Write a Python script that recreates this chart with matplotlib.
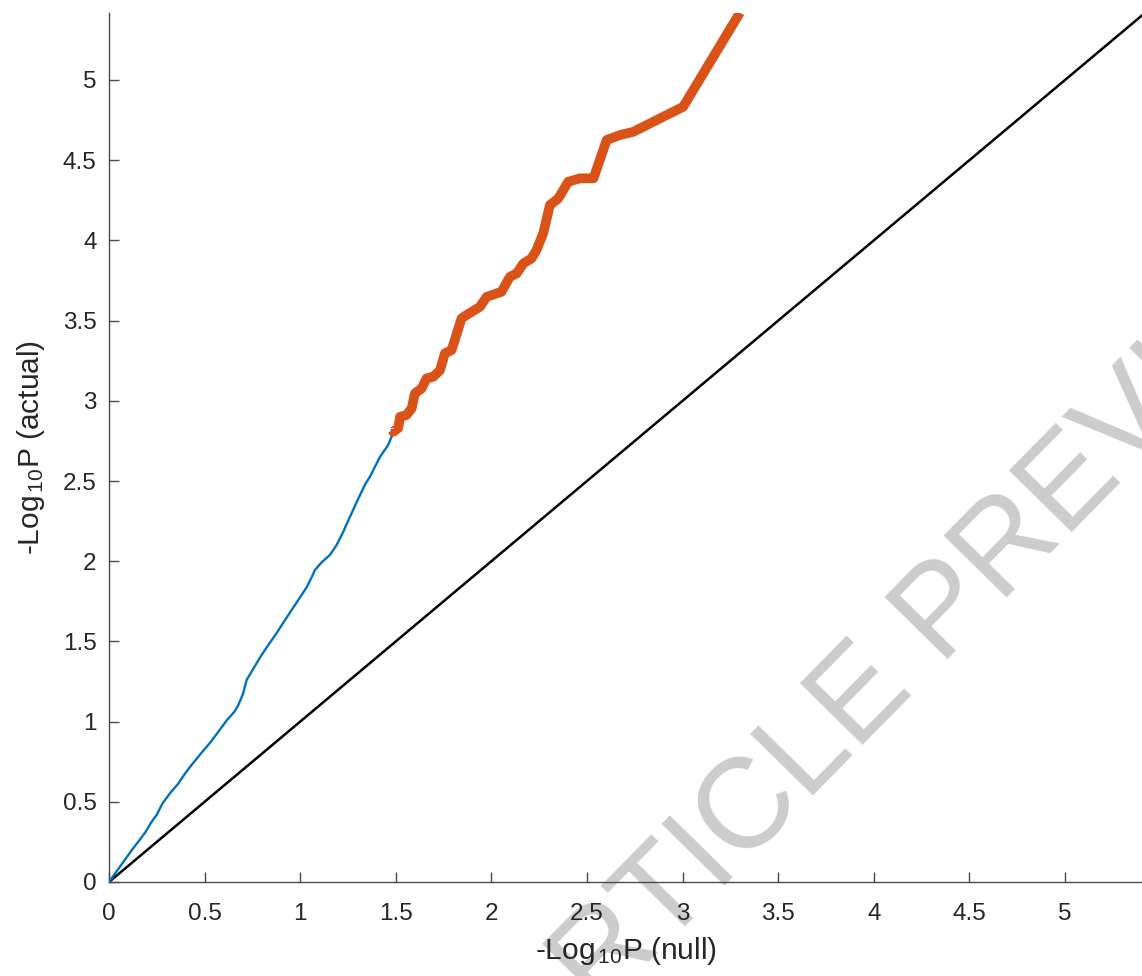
import matplotlib
matplotlib.use("Agg")
import matplotlib.pyplot as plt

plt.rcParams['font.family'] = ['Liberation Sans', 'DejaVu Sans']
plt.rcParams['mathtext.fontset'] = 'custom'
plt.rcParams['mathtext.rm'] = 'Liberation Sans'
plt.rcParams['mathtext.it'] = 'Liberation Sans'
plt.rcParams['mathtext.default'] = 'rm'

# ---- data ----
blue_x = [0, 0.03, 0.06, 0.09, 0.12, 0.16, 0.19, 0.22, 0.25, 0.28, 0.32, 0.36,
          0.40, 0.44, 0.48, 0.53, 0.58, 0.617, 0.655, 0.675, 0.70, 0.72, 0.76,
          0.79, 0.826, 0.87, 0.93, 0.98, 1.035, 1.06, 1.077, 1.11, 1.156, 1.19,
          1.224, 1.25, 1.277, 1.30, 1.34, 1.365, 1.40, 1.417, 1.46, 1.478, 1.48]
blue_y = [0, 0.05, 0.10, 0.15, 0.20, 0.262, 0.31, 0.37, 0.42, 0.49, 0.555, 0.61,
          0.68, 0.742, 0.80, 0.87, 0.95, 1.01, 1.06, 1.10, 1.17, 1.26, 1.34,
          1.40, 1.465, 1.54, 1.65, 1.74, 1.84, 1.90, 1.945, 1.99, 2.04, 2.10,
          2.18, 2.25, 2.32, 2.38, 2.48, 2.527, 2.61, 2.65, 2.724, 2.776, 2.818]

orange_x = [1.480, 1.487, 1.513, 1.522, 1.556, 1.583, 1.600, 1.635, 1.661, 1.696,
            1.731, 1.757, 1.792, 1.844, 1.897, 1.940, 1.975, 2.053, 2.097, 2.132,
            2.167, 2.210, 2.236, 2.271, 2.306, 2.350, 2.402, 2.464, 2.534, 2.603,
            2.673, 2.742, 3.003, 3.300]
orange_y = [2.818, 2.807, 2.830, 2.900, 2.911, 2.953, 3.046, 3.077, 3.140, 3.150,
            3.190, 3.296, 3.317, 3.514, 3.555, 3.586, 3.648, 3.680, 3.773, 3.794,
            3.856, 3.888, 3.940, 4.044, 4.220, 4.262, 4.366, 4.387, 4.387, 4.626,
            4.657, 4.677, 4.833, 5.420]

null_x = [0, 6]
null_y = [0, 6]

x_ticks = [0, 0.5, 1, 1.5, 2, 2.5, 3, 3.5, 4, 4.5, 5]
y_ticks = [0, 0.5, 1, 1.5, 2, 2.5, 3, 3.5, 4, 4.5, 5]
x_ticklabels = ['0', '0.5', '1', '1.5', '2', '2.5', '3', '3.5', '4', '4.5', '5']
y_ticklabels = ['0', '0.5', '1', '1.5', '2', '2.5', '3', '3.5', '4', '4.5', '5']

xlabel = r'-Log$_{\,10}$P (null)'
ylabel = r'-Log$_{\,10}$P (actual)'
watermark = 'ARTICLE PREVIEW'

# ---- figure ----
W, H = 1142, 976
fig = plt.figure(figsize=(W / 100, H / 100), dpi=100)
ax = fig.add_axes([109 / W, (H - 882) / H, (W - 109) / W, (882 - 13) / H])
ax.set_facecolor('none')

ax.plot(null_x, null_y, color='black', lw=1.8, zorder=2)
ax.plot(blue_x, blue_y, color='#0072BD', lw=1.7, zorder=3)
ax.plot(orange_x, orange_y, color='#D95319', lw=7, solid_capstyle='butt',
        solid_joinstyle='round', zorder=4)

ax.set_xlim(0, (W - 109) / 191.2)
ax.set_ylim(0, (882 - 13) / 160.4)

ax.set_xticks(x_ticks)
ax.set_xticklabels(x_ticklabels)
ax.set_yticks(y_ticks)
ax.set_yticklabels(y_ticklabels)

for s in ['top', 'right']:
    ax.spines[s].set_visible(False)
for s in ['left', 'bottom']:
    ax.spines[s].set_color('#4a4a4a')
    ax.spines[s].set_linewidth(1.0)

ax.tick_params(axis='both', direction='in', length=7, width=1.0,
               color='#4a4a4a', labelcolor='#262626', labelsize=17.5)
ax.tick_params(axis='x', pad=15)
ax.tick_params(axis='y', pad=9)

ax.set_xlabel(xlabel, fontsize=21.5, color='#262626')
ax.set_ylabel(ylabel, fontsize=21.5, color='#262626')
ax.xaxis.set_label_coords(0.5, (882 - 935) / 869)
ax.yaxis.set_label_coords((47 - 109) / 1033, 0.5)

# watermark (behind the chart content)
fig.text(946 / W, 1 - 660 / H, watermark, fontsize=92, color='#cccccc',
         rotation=45.5, rotation_mode='anchor', ha='center', va='baseline',
         zorder=-1)

fig.savefig('out.png', dpi=100)
